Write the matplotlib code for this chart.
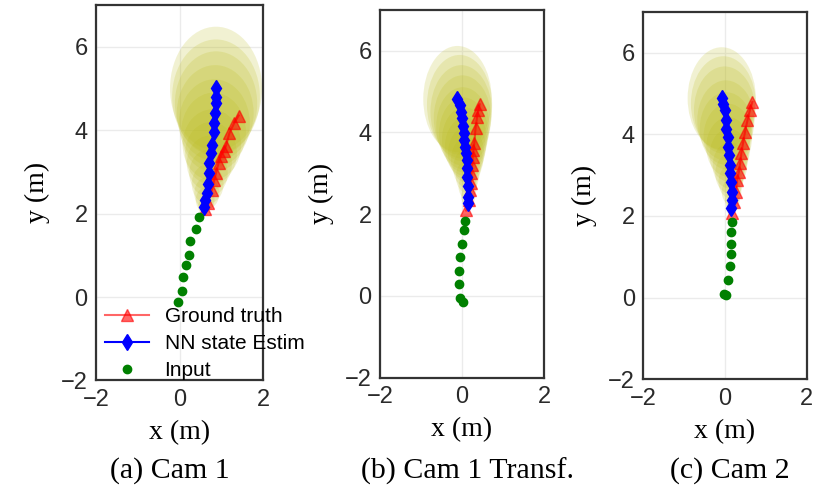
import matplotlib
matplotlib.use("Agg")
import matplotlib.pyplot as plt
from matplotlib.patches import Ellipse

W, H = 827, 498

# ---------------- data ----------------
# Panel (a) Cam 1
a_in_x = [0.47, 0.39, 0.25, 0.23, 0.16, 0.09, 0.05, -0.03]
a_in_y = [1.93, 1.64, 1.34, 1.01, 0.77, 0.47, 0.14, -0.12]
a_gt_x = [0.61, 0.67, 0.77, 0.83, 0.87, 0.93, 0.99, 1.05, 1.11, 1.19, 1.31, 1.41]
a_gt_y = [2.10, 2.26, 2.57, 2.81, 2.97, 3.21, 3.39, 3.50, 3.63, 3.93, 4.18, 4.35]
a_nn_x = [0.59, 0.61, 0.65, 0.67, 0.69, 0.71, 0.75, 0.77, 0.81, 0.83, 0.85, 0.87, 0.87, 0.87]
a_nn_y = [2.17, 2.33, 2.49, 2.71, 2.97, 3.21, 3.45, 3.65, 3.95, 4.17, 4.41, 4.64, 4.80, 5.00]
a_ell_w = [0.30, 0.45, 0.60, 0.76, 0.92, 1.08, 1.24, 1.40, 1.55, 1.70, 1.84, 1.97, 2.10, 2.20]
a_ell_h = [0.40, 0.58, 0.76, 0.95, 1.13, 1.32, 1.50, 1.70, 1.90, 2.10, 2.30, 2.50, 2.75, 2.96]

# Panel (b) Cam 1 Transf.
b_in_x = [0.08, 0.06, 0.01, -0.04, -0.07, -0.08, -0.04, 0.02]
b_in_y = [1.84, 1.62, 1.27, 0.94, 0.62, 0.29, -0.06, -0.16]
b_gt_x = [0.10, 0.16, 0.20, 0.22, 0.23, 0.25, 0.26, 0.28, 0.30, 0.33, 0.37, 0.40, 0.43]
b_gt_y = [2.09, 2.35, 2.58, 2.77, 3.00, 3.21, 3.41, 3.57, 3.74, 4.10, 4.39, 4.55, 4.69]
b_nn_x = [0.15, 0.15, 0.14, 0.13, 0.12, 0.12, 0.10, 0.08, 0.06, 0.04, 0.02, 0.01, -0.02, -0.06, -0.11]
b_nn_y = [2.27, 2.43, 2.68, 2.92, 3.13, 3.33, 3.49, 3.65, 3.82, 3.98, 4.15, 4.35, 4.51, 4.68, 4.82]
b_ell_w = [0.24, 0.34, 0.45, 0.56, 0.67, 0.78, 0.89, 1.00, 1.10, 1.20, 1.30, 1.40, 1.50, 1.59, 1.67]
b_ell_h = [0.34, 0.48, 0.64, 0.80, 0.96, 1.12, 1.28, 1.44, 1.60, 1.76, 1.92, 2.10, 2.28, 2.44, 2.60]

# Panel (c) Cam 2
c_in_x = [0.16, 0.15, 0.14, 0.14, 0.13, 0.07, 0.02, -0.02]
c_in_y = [1.86, 1.61, 1.31, 1.06, 0.78, 0.43, 0.07, 0.09]
c_gt_x = [0.18, 0.22, 0.26, 0.30, 0.34, 0.37, 0.40, 0.44, 0.49, 0.55, 0.61, 0.67]
c_gt_y = [2.06, 2.35, 2.59, 2.88, 3.08, 3.29, 3.53, 3.78, 4.06, 4.34, 4.59, 4.79]
c_nn_x = [0.15, 0.18, 0.16, 0.14, 0.12, 0.12, 0.10, 0.08, 0.07, 0.03, 0.02, -0.01, -0.04, -0.08]
c_nn_y = [2.19, 2.39, 2.59, 2.84, 3.04, 3.24, 3.49, 3.69, 3.94, 4.14, 4.34, 4.59, 4.75, 4.88]
c_ell_w = [0.24, 0.36, 0.48, 0.60, 0.72, 0.84, 0.96, 1.08, 1.19, 1.30, 1.40, 1.50, 1.59, 1.67]
c_ell_h = [0.34, 0.50, 0.66, 0.82, 0.98, 1.14, 1.30, 1.46, 1.62, 1.78, 1.96, 2.14, 2.32, 2.50]

xticks = [-2, 0, 2]
yticks = [-2, 0, 2, 4, 6]
captions = ["(a) Cam 1", "(b) Cam 1 Transf.", "(c) Cam 2"]
legend_labels = ["Ground truth", "NN state Estim", "Input"]

panels = [
    dict(inx=a_in_x, iny=a_in_y, gtx=a_gt_x, gty=a_gt_y, nnx=a_nn_x, nny=a_nn_y,
         ew=a_ell_w, eh=a_ell_h, box=(96, 263.3, 5, 380.5), cap_x=170, legend=True),
    dict(inx=b_in_x, iny=b_in_y, gtx=b_gt_x, gty=b_gt_y, nnx=b_nn_x, nny=b_nn_y,
         ew=b_ell_w, eh=b_ell_h, box=(380, 544, 10, 377.5), cap_x=467, legend=False),
    dict(inx=c_in_x, iny=c_in_y, gtx=c_gt_x, gty=c_gt_y, nnx=c_nn_x, nny=c_nn_y,
         ew=c_ell_w, eh=c_ell_h, box=(643.3, 806.7, 11.7, 379.3), cap_x=730, legend=False),
]

fig = plt.figure(figsize=(W / 100, H / 100), dpi=100)
serif = ["Liberation Serif", "DejaVu Serif"]
sans = ["Liberation Sans", "DejaVu Sans"]

for i, p in enumerate(panels):
    l, r, t, b = p["box"]
    ax = fig.add_axes([l / W, 1 - b / H, (r - l) / W, (b - t) / H])
    ax.set_xlim(-2, 2)
    ax.set_ylim(-2, 7)
    ax.set_xticks(xticks)
    ax.set_yticks(yticks)
    ax.grid(True, color="#ebebeb", linewidth=1.0, zorder=0)
    ax.set_axisbelow(True)
    ax.tick_params(length=0, labelsize=17, pad=6)
    for lab in ax.get_xticklabels() + ax.get_yticklabels():
        lab.set_family(sans)
        lab.set_color("#2a2a2a")
    for s in ax.spines.values():
        s.set_color("#333333")
        s.set_linewidth(1.6)

    for x, y, w, h in zip(p["nnx"], p["nny"], p["ew"], p["eh"]):
        ax.add_patch(Ellipse((x, y), w, h, facecolor="#bcbd22", edgecolor="none",
                             alpha=0.2, zorder=1))

    ax.plot(p["gtx"], p["gty"], color="red", marker="^", markersize=9, linewidth=1.5,
            alpha=0.6, zorder=3, label=legend_labels[0])
    ax.plot(p["nnx"], p["nny"], color="blue", marker="d", markersize=8.5, linewidth=1.5,
            zorder=4, label=legend_labels[1])
    ax.plot(p["inx"], p["iny"], linestyle="none", color="green", marker="o",
            markersize=6, zorder=5, label=legend_labels[2])

    ax.set_xlabel("x (m)", family=serif, fontsize=20, labelpad=7)
    ax.set_ylabel("y (m)", family=serif, fontsize=20, labelpad=8)

    if p["legend"]:
        leg = ax.legend(loc="lower left", bbox_to_anchor=(0.03, -0.01), frameon=False,
                        prop={"family": sans, "size": 15}, handlelength=2.1,
                        handletextpad=0.75, labelspacing=0.38, borderaxespad=0.0,
                        borderpad=0.2)
        leg.set_zorder(6)

    fig.text(p["cap_x"] / W, 1 - 471 / H, captions[i], family=serif, fontsize=21.5,
             ha="center", va="center")

fig.savefig("out.png", dpi=100)
